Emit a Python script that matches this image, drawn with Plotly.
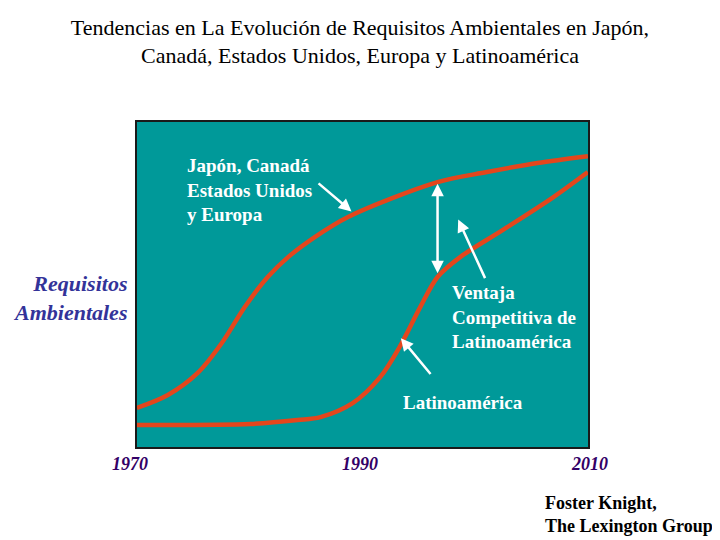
import plotly.graph_objects as go

# Data: years vs. environmental requirement level (0-100)
years_dev = [1970.6, 1973.3, 1975.9, 1978.0, 1980.0, 1982.0, 1983.8, 1986.1, 1989.0,
             1996.8, 2001.1, 2005.5, 2009.9]
req_dev = [12.0, 16.0, 22.8, 32.0, 43.1, 52.3, 58.5, 64.6, 70.8, 81.5, 84.6, 87.4, 89.5]

years_lat = [1970.6, 1980.5, 1984.6, 1986.6, 1989.4, 1991.8, 1993.5, 1995.3, 1996.8,
             1998.8, 2002.5, 2006.9, 2009.9]
req_lat = [6.8, 7.1, 8.3, 9.2, 13.5, 21.5, 30.8, 43.1, 52.3, 58.5, 66.8, 76.9, 84.6]

tick_years = [1970, 1990, 2010]
tick_labels = ["1970", "1990", "2010"]

x_range = [1970.61, 2009.91]
line_color = "#e4461c"
serif = "Liberation Serif, Times New Roman, serif"

# the browser page adds an 8px body margin; figure coordinates compensate for it
OFF = 8
PLOT_L, PLOT_R, PLOT_T, PLOT_B = 137 - OFF, 588 - OFF, 122 - OFF, 447 - OFF
PW, PH = PLOT_R - PLOT_L, PLOT_B - PLOT_T

fig = go.Figure()
fig.add_trace(go.Scatter(x=years_dev, y=req_dev, mode="lines",
                         line=dict(color=line_color, width=4.5, shape="spline", smoothing=0.9),
                         hoverinfo="skip", showlegend=False))
fig.add_trace(go.Scatter(x=years_lat, y=req_lat, mode="lines",
                         line=dict(color=line_color, width=4.5, shape="spline", smoothing=0.9),
                         hoverinfo="skip", showlegend=False))

white_font = dict(family=serif, size=19, color="white")
arrow = dict(xref="x", yref="y", axref="x", ayref="y", text="", showarrow=True,
             arrowhead=2, arrowsize=1, arrowwidth=2.5, arrowcolor="white")

annotations = [
    dict(x=1974.8, y=79.1, xref="x", yref="y",
         text="<b>Japón, Canadá<br>Estados Unidos<br>y Europa</b>",
         showarrow=False, xanchor="left", yanchor="middle", align="left", font=white_font),
    dict(arrow, x=1989.3, y=72.5, ax=1986.3, ay=81.5),
    dict(arrow, x=1996.8, y=81.0, ax=1996.8, ay=53.0, startarrowhead=2, arrowside="end+start"),
    dict(x=1997.9, y=40.0, xref="x", yref="y",
         text="<b>Ventaja<br>Competitiva de<br>Latinoamérica</b>",
         showarrow=False, xanchor="left", yanchor="middle", align="left", font=white_font),
    dict(arrow, x=1998.6, y=70.0, ax=2001.0, ay=51.5),
    dict(x=1993.6, y=13.8, xref="x", yref="y", text="<b>Latinoamérica</b>",
         showarrow=False, xanchor="left", yanchor="middle", align="left", font=white_font),
    dict(arrow, x=1993.6, y=33.5, ax=1996.3, ay=22.0),
    # y-axis label
    dict(x=-8 / PW, y=(447 - 298) / PH, xref="paper", yref="paper",
         text="<b><i>Requisitos<br>Ambientales</i></b>", showarrow=False,
         xanchor="right", yanchor="middle", align="right",
         font=dict(family=serif, size=22, color="#333399")),
    # credit
    dict(x=(543 - 137) / PW, y=(447 - 515) / PH, xref="paper", yref="paper",
         text="<b>Foster Knight,<br>The Lexington Group</b>",
         showarrow=False, xanchor="left", yanchor="middle", align="left",
         font=dict(family=serif, size=18, color="black")),
]
# x tick labels, placed at their year along the axis (end years lie just outside the range)
span = x_range[1] - x_range[0]
for yr, lab in zip(tick_years, tick_labels):
    annotations.append(dict(x=(yr - x_range[0]) / span, y=-17 / PH, xref="paper", yref="paper",
                            text=f"<b><i>{lab}</i></b>", showarrow=False,
                            xanchor="center", yanchor="middle",
                            font=dict(family=serif, size=18, color="#330066")))

fig.update_layout(
    width=720, height=540,
    margin=dict(l=PLOT_L, r=720 - PLOT_R, t=PLOT_T, b=540 - PLOT_B),
    paper_bgcolor="white", plot_bgcolor="#009999",
    title=dict(text="Tendencias en La Evolución de Requisitos Ambientales en Japón,<br>"
                    "Canadá, Estados Unidos, Europa y Latinoamérica",
               x=(360 - OFF) / 720, xanchor="center", y=1 - (34.5 - OFF) / 540, yanchor="middle",
               font=dict(family=serif, size=22, color="black")),
    annotations=annotations,
    xaxis=dict(range=x_range, showticklabels=False,
               showgrid=False, zeroline=False, ticks="",
               showline=True, linecolor="#1a1a1a", linewidth=1.5, mirror=True),
    yaxis=dict(range=[0, 100], showticklabels=False, showgrid=False, zeroline=False, ticks="",
               showline=True, linecolor="#1a1a1a", linewidth=1.5, mirror=True),
)

fig.write_html("out.html")
